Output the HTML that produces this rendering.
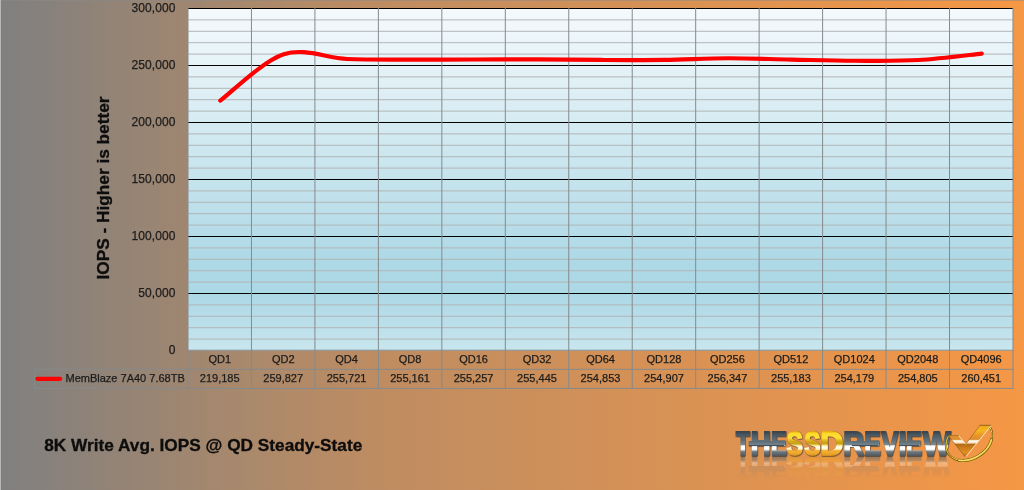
<!DOCTYPE html>
<html lang="en"><head><meta charset="utf-8"><title>8K Write Avg. IOPS @ QD Steady-State</title>
<style>
html,body{margin:0;padding:0;}
body{width:1024px;height:490px;overflow:hidden;background:#808080;}
svg{display:block;}
text{font-family:"Liberation Sans",sans-serif;}
.ax{font-size:12px;fill:#1c1c1c;letter-spacing:0.1px;stroke:#1c1c1c;stroke-width:0.25px;}
.tb{font-size:11px;fill:#1c1c1c;stroke:#1c1c1c;stroke-width:0.25px;}
.ttl{font-size:16px;font-weight:bold;fill:#0d0d0d;stroke:#0d0d0d;stroke-width:0.3px;}
.logo{font-family:"Liberation Sans",sans-serif;font-weight:bold;font-size:33.5px;}
</style></head><body>
<svg width="1024" height="490" viewBox="0 0 1024 490">
<defs>
<linearGradient id="bg" x1="0" y1="0" x2="1" y2="0">
<stop offset="0" stop-color="#808080"/>
<stop offset="0.125" stop-color="#958475"/>
<stop offset="0.25" stop-color="#AB896B"/>
<stop offset="0.375" stop-color="#BF8C61"/>
<stop offset="0.5" stop-color="#CA8F5C"/>
<stop offset="0.75" stop-color="#E09350"/>
<stop offset="1" stop-color="#F59745"/>
</linearGradient>
<linearGradient id="plot" x1="0" y1="0" x2="0" y2="1">
<stop offset="0" stop-color="#F5FAFC"/>
<stop offset="0.75" stop-color="#ADD8E6"/>
<stop offset="0.84" stop-color="#ADD8E6"/>
<stop offset="1" stop-color="#C8E6EE"/>
</linearGradient>
<linearGradient id="chrome" gradientUnits="userSpaceOnUse" x1="0" y1="432" x2="0" y2="456">
<stop offset="0" stop-color="#3a444c"/>
<stop offset="0.12" stop-color="#4a5862"/>
<stop offset="0.40" stop-color="#64747e"/>
<stop offset="0.54" stop-color="#7d8d96"/>
<stop offset="0.57" stop-color="#eef2f4"/>
<stop offset="0.61" stop-color="#ffffff"/>
<stop offset="0.72" stop-color="#ffffff"/>
<stop offset="0.78" stop-color="#aab2b7"/>
<stop offset="0.82" stop-color="#6f787e"/>
<stop offset="1" stop-color="#4e565c"/>
</linearGradient>
<linearGradient id="bar" gradientUnits="userSpaceOnUse" x1="0" y1="441" x2="0" y2="446">
<stop offset="0" stop-color="#5b6b75"/>
<stop offset="0.8" stop-color="#74848d"/>
<stop offset="0.86" stop-color="#465159"/>
<stop offset="1" stop-color="#465159"/>
</linearGradient>
<linearGradient id="gold" gradientUnits="userSpaceOnUse" x1="0" y1="431.5" x2="0" y2="456.5">
<stop offset="0" stop-color="#e8b010"/>
<stop offset="0.08" stop-color="#ffd92a"/>
<stop offset="0.26" stop-color="#ffdf35"/>
<stop offset="0.40" stop-color="#d4a818"/>
<stop offset="0.50" stop-color="#c9a01a"/>
<stop offset="0.55" stop-color="#f6e27a"/>
<stop offset="0.62" stop-color="#fffdf0"/>
<stop offset="0.71" stop-color="#fff2c0"/>
<stop offset="0.76" stop-color="#f4b336"/>
<stop offset="0.9" stop-color="#eba32a"/>
<stop offset="1" stop-color="#c88418"/>
</linearGradient>
<linearGradient id="chk" gradientUnits="userSpaceOnUse" x1="0" y1="425" x2="0" y2="457">
<stop offset="0" stop-color="#8a5a12"/>
<stop offset="0.03" stop-color="#f0a81c"/>
<stop offset="0.18" stop-color="#f6b422"/>
<stop offset="0.33" stop-color="#e8962a"/>
<stop offset="0.45" stop-color="#dc8c2e"/>
<stop offset="0.475" stop-color="#f8e2c4"/>
<stop offset="0.52" stop-color="#fffaf0"/>
<stop offset="0.57" stop-color="#f3d3a8"/>
<stop offset="0.595" stop-color="#b06a12"/>
<stop offset="0.70" stop-color="#c87c1a"/>
<stop offset="0.85" stop-color="#e08e22"/>
<stop offset="1" stop-color="#b87016"/>
</linearGradient>
<linearGradient id="fade" gradientUnits="userSpaceOnUse" x1="0" y1="456" x2="0" y2="478">
<stop offset="0" stop-color="#fff" stop-opacity="0.55"/>
<stop offset="0.5" stop-color="#fff" stop-opacity="0.18"/>
<stop offset="1" stop-color="#fff" stop-opacity="0"/>
</linearGradient>
<filter id="lsh" x="-2%" y="-10%" width="104%" height="120%" color-interpolation-filters="sRGB">
<feDropShadow dx="0.5" dy="0.5" stdDeviation="0.35" flood-color="#1b2126" flood-opacity="0.85"/>
</filter>
<mask id="refl" maskUnits="userSpaceOnUse" x="700" y="450" width="324" height="40">
<rect x="700" y="456" width="324" height="24" fill="url(#fade)"/>
</mask>
</defs>
<rect x="0" y="0" width="1024" height="490" fill="url(#bg)"/>
<rect x="0" y="0" width="1024" height="1" fill="#8a8a8a" fill-opacity="0.5"/>
<rect x="0" y="0" width="1" height="490" fill="#b7b7b7"/>
<rect x="188.0" y="8.0" width="824.98" height="342.5" fill="url(#plot)"/>
<g stroke="#b2b5b6" stroke-width="1" shape-rendering="auto">
<line x1="187.5" y1="19.90" x2="1013.48" y2="19.90"/>
<line x1="187.5" y1="31.30" x2="1013.48" y2="31.30"/>
<line x1="187.5" y1="42.70" x2="1013.48" y2="42.70"/>
<line x1="187.5" y1="54.10" x2="1013.48" y2="54.10"/>
<line x1="187.5" y1="76.90" x2="1013.48" y2="76.90"/>
<line x1="187.5" y1="88.30" x2="1013.48" y2="88.30"/>
<line x1="187.5" y1="99.70" x2="1013.48" y2="99.70"/>
<line x1="187.5" y1="111.10" x2="1013.48" y2="111.10"/>
<line x1="187.5" y1="133.90" x2="1013.48" y2="133.90"/>
<line x1="187.5" y1="145.30" x2="1013.48" y2="145.30"/>
<line x1="187.5" y1="156.70" x2="1013.48" y2="156.70"/>
<line x1="187.5" y1="168.10" x2="1013.48" y2="168.10"/>
<line x1="187.5" y1="190.90" x2="1013.48" y2="190.90"/>
<line x1="187.5" y1="202.30" x2="1013.48" y2="202.30"/>
<line x1="187.5" y1="213.70" x2="1013.48" y2="213.70"/>
<line x1="187.5" y1="225.10" x2="1013.48" y2="225.10"/>
<line x1="187.5" y1="247.90" x2="1013.48" y2="247.90"/>
<line x1="187.5" y1="259.30" x2="1013.48" y2="259.30"/>
<line x1="187.5" y1="270.70" x2="1013.48" y2="270.70"/>
<line x1="187.5" y1="282.10" x2="1013.48" y2="282.10"/>
<line x1="187.5" y1="304.90" x2="1013.48" y2="304.90"/>
<line x1="187.5" y1="316.30" x2="1013.48" y2="316.30"/>
<line x1="187.5" y1="327.70" x2="1013.48" y2="327.70"/>
<line x1="187.5" y1="339.10" x2="1013.48" y2="339.10"/>
</g>
<g stroke="#000" stroke-width="1" shape-rendering="crispEdges">
<line x1="187.5" y1="8.50" x2="1013.48" y2="8.50"/>
<line x1="187.5" y1="65.50" x2="1013.48" y2="65.50"/>
<line x1="187.5" y1="122.50" x2="1013.48" y2="122.50"/>
<line x1="187.5" y1="179.50" x2="1013.48" y2="179.50"/>
<line x1="187.5" y1="236.50" x2="1013.48" y2="236.50"/>
<line x1="187.5" y1="293.50" x2="1013.48" y2="293.50"/>
</g>
<g stroke="#858a8d" stroke-width="1">
<line x1="188.00" y1="8.0" x2="188.00" y2="388.9"/>
<line x1="251.46" y1="8.0" x2="251.46" y2="388.9"/>
<line x1="314.92" y1="8.0" x2="314.92" y2="388.9"/>
<line x1="378.38" y1="8.0" x2="378.38" y2="388.9"/>
<line x1="441.84" y1="8.0" x2="441.84" y2="388.9"/>
<line x1="505.30" y1="8.0" x2="505.30" y2="388.9"/>
<line x1="568.76" y1="8.0" x2="568.76" y2="388.9"/>
<line x1="632.22" y1="8.0" x2="632.22" y2="388.9"/>
<line x1="695.68" y1="8.0" x2="695.68" y2="388.9"/>
<line x1="759.14" y1="8.0" x2="759.14" y2="388.9"/>
<line x1="822.60" y1="8.0" x2="822.60" y2="388.9"/>
<line x1="886.06" y1="8.0" x2="886.06" y2="388.9"/>
<line x1="949.52" y1="8.0" x2="949.52" y2="388.9"/>
<line x1="1012.98" y1="8.0" x2="1012.98" y2="388.9"/>
<line x1="187.5" y1="350.2" x2="1013.48" y2="350.2"/>
<line x1="33.9" y1="369.3" x2="1013.48" y2="369.3"/>
<line x1="33.9" y1="388.4" x2="1013.48" y2="388.4"/>
<line x1="34.4" y1="368.8" x2="34.4" y2="388.9"/>
</g>
<g class="ax" text-anchor="end">
<text x="175.5" y="12.0">300,000</text>
<text x="175.5" y="69.0">250,000</text>
<text x="175.5" y="126.0">200,000</text>
<text x="175.5" y="183.0">150,000</text>
<text x="175.5" y="240.0">100,000</text>
<text x="175.5" y="297.0">50,000</text>
<text x="175.5" y="354.0">0</text>
</g>
<text class="ttl" transform="translate(109.2 279.5) rotate(-90) scale(1.078 1.04)" x="0" y="0">IOPS - Higher is better</text>
<g class="tb" text-anchor="middle">
<text x="219.7" y="362.8">QD1</text>
<text x="219.7" y="381.8">219,185</text>
<text x="283.2" y="362.8">QD2</text>
<text x="283.2" y="381.8">259,827</text>
<text x="346.6" y="362.8">QD4</text>
<text x="346.6" y="381.8">255,721</text>
<text x="410.1" y="362.8">QD8</text>
<text x="410.1" y="381.8">255,161</text>
<text x="473.6" y="362.8">QD16</text>
<text x="473.6" y="381.8">255,257</text>
<text x="537.0" y="362.8">QD32</text>
<text x="537.0" y="381.8">255,445</text>
<text x="600.5" y="362.8">QD64</text>
<text x="600.5" y="381.8">254,853</text>
<text x="664.0" y="362.8">QD128</text>
<text x="664.0" y="381.8">254,907</text>
<text x="727.4" y="362.8">QD256</text>
<text x="727.4" y="381.8">256,347</text>
<text x="790.9" y="362.8">QD512</text>
<text x="790.9" y="381.8">255,183</text>
<text x="854.3" y="362.8">QD1024</text>
<text x="854.3" y="381.8">254,179</text>
<text x="917.8" y="362.8">QD2048</text>
<text x="917.8" y="381.8">254,805</text>
<text x="981.2" y="362.8">QD4096</text>
<text x="981.2" y="381.8">260,451</text>
</g>
<text class="tb" x="65.5" y="381.8">MemBlaze 7A40 7.68TB</text>
<line x1="37.4" y1="378.8" x2="60.2" y2="378.8" stroke="#ff0000" stroke-width="4.2" stroke-linecap="round"/>
<path d="M220.23,100.63 C230.81,92.91 262.54,61.24 283.69,54.30 C304.84,47.36 326.00,58.09 347.15,58.98 C368.30,59.86 389.46,59.53 410.61,59.62 C431.76,59.70 452.92,59.56 474.07,59.51 C495.22,59.45 516.38,59.22 537.53,59.29 C558.68,59.37 579.84,59.87 600.99,59.97 C622.14,60.07 643.30,60.19 664.45,59.91 C685.60,59.62 706.76,58.32 727.91,58.26 C749.06,58.21 770.22,59.18 791.37,59.59 C812.52,60.00 833.68,60.66 854.83,60.74 C875.98,60.81 897.14,61.21 918.29,60.02 C939.44,58.83 971.17,54.66 981.75,53.59" fill="none" stroke="#ff0000" stroke-width="4.2" stroke-linecap="round" stroke-linejoin="round"/>
<text class="ttl" transform="translate(44.2 450.8) scale(1.079 1.04)" x="0" y="0">8K Write Avg. IOPS @ QD Steady-State</text>
<g mask="url(#refl)" aria-hidden="true"><g transform="translate(0 912.4) scale(1 -1)"><g><text class="logo" font-size="32.27" y="455.10" stroke-width="1.8" stroke-linejoin="miter"><tspan x="736.05" textLength="13.69" lengthAdjust="spacingAndGlyphs" fill="url(#chrome)" stroke="url(#chrome)">T</tspan><tspan x="750.66" textLength="19.90" lengthAdjust="spacingAndGlyphs" fill="url(#chrome)" stroke="url(#chrome)">H</tspan><tspan x="770.91" textLength="15.81" lengthAdjust="spacingAndGlyphs" fill="url(#chrome)" stroke="url(#chrome)">E</tspan><tspan x="786.48" textLength="16.59" lengthAdjust="spacingAndGlyphs" fill="url(#gold)" stroke="url(#gold)">S</tspan><tspan x="804.19" textLength="16.37" lengthAdjust="spacingAndGlyphs" fill="url(#gold)" stroke="url(#gold)">S</tspan><tspan x="820.25" textLength="23.20" lengthAdjust="spacingAndGlyphs" fill="url(#gold)" stroke="url(#gold)">D</tspan><tspan x="843.19" textLength="20.59" lengthAdjust="spacingAndGlyphs" fill="url(#chrome)" stroke="url(#chrome)">R</tspan><tspan x="864.27" textLength="16.29" lengthAdjust="spacingAndGlyphs" fill="url(#chrome)" stroke="url(#chrome)">E</tspan><tspan x="881.23" textLength="17.05" lengthAdjust="spacingAndGlyphs" fill="url(#chrome)" stroke="url(#chrome)">V</tspan><tspan x="898.69" textLength="7.52" lengthAdjust="spacingAndGlyphs" fill="url(#chrome)" stroke="url(#chrome)">I</tspan><tspan x="906.11" textLength="15.81" lengthAdjust="spacingAndGlyphs" fill="url(#chrome)" stroke="url(#chrome)">E</tspan><tspan x="922.77" textLength="27.66" lengthAdjust="spacingAndGlyphs" fill="url(#chrome)" stroke="url(#chrome)">W</tspan></text><g fill="url(#bar)"><rect x="748.8" y="441.1" width="35.4" height="5"/><rect x="852" y="441.1" width="26.4" height="5"/><rect x="899" y="441.1" width="20.4" height="5"/></g></g></g></g>
<g filter="url(#lsh)"><text class="logo" font-size="32.27" y="455.10" stroke-width="1.8" stroke-linejoin="miter"><tspan x="736.05" textLength="13.69" lengthAdjust="spacingAndGlyphs" fill="url(#chrome)" stroke="url(#chrome)">T</tspan><tspan x="750.66" textLength="19.90" lengthAdjust="spacingAndGlyphs" fill="url(#chrome)" stroke="url(#chrome)">H</tspan><tspan x="770.91" textLength="15.81" lengthAdjust="spacingAndGlyphs" fill="url(#chrome)" stroke="url(#chrome)">E</tspan><tspan x="786.48" textLength="16.59" lengthAdjust="spacingAndGlyphs" fill="url(#gold)" stroke="url(#gold)">S</tspan><tspan x="804.19" textLength="16.37" lengthAdjust="spacingAndGlyphs" fill="url(#gold)" stroke="url(#gold)">S</tspan><tspan x="820.25" textLength="23.20" lengthAdjust="spacingAndGlyphs" fill="url(#gold)" stroke="url(#gold)">D</tspan><tspan x="843.19" textLength="20.59" lengthAdjust="spacingAndGlyphs" fill="url(#chrome)" stroke="url(#chrome)">R</tspan><tspan x="864.27" textLength="16.29" lengthAdjust="spacingAndGlyphs" fill="url(#chrome)" stroke="url(#chrome)">E</tspan><tspan x="881.23" textLength="17.05" lengthAdjust="spacingAndGlyphs" fill="url(#chrome)" stroke="url(#chrome)">V</tspan><tspan x="898.69" textLength="7.52" lengthAdjust="spacingAndGlyphs" fill="url(#chrome)" stroke="url(#chrome)">I</tspan><tspan x="906.11" textLength="15.81" lengthAdjust="spacingAndGlyphs" fill="url(#chrome)" stroke="url(#chrome)">E</tspan><tspan x="922.77" textLength="27.66" lengthAdjust="spacingAndGlyphs" fill="url(#chrome)" stroke="url(#chrome)">W</tspan></text><g fill="url(#bar)"><rect x="748.8" y="441.1" width="35.4" height="5"/><rect x="852" y="441.1" width="26.4" height="5"/><rect x="899" y="441.1" width="20.4" height="5"/></g></g>
<path d="M948.14,436.61 A24.7,18.3 -31.4 1 0 989.17,426.12" fill="none" stroke="#5e4708" stroke-width="2.0" stroke-linecap="round"/>
<path d="M948.14,436.61 A24.7,18.3 -31.4 1 0 989.17,426.12" fill="none" stroke="#f2d848" stroke-width="1.0" stroke-linecap="round"/>
<path d="M958.98,460.20 A24.7,18.3 -31.4 0 0 991.48,439.78" fill="none" stroke="#5e4708" stroke-width="3.0" stroke-linecap="round"/>
<path d="M958.98,460.20 A24.7,18.3 -31.4 0 0 991.48,439.78" fill="none" stroke="#e8c838" stroke-width="2.0" stroke-linecap="round"/>
<path d="M958.98,460.20 A24.7,18.3 -31.4 0 0 991.48,439.78" fill="none" stroke="#fff3a0" stroke-width="0.6" stroke-linecap="round"/>
<polygon points="948.3,435.6 958.7,435.6 965.6,444.2 980.1,425.1 991.4,425.3 965.4,457.2" fill="url(#chk)"/>
<path d="M958.7,435.6 L965.6,444.2 M991.4,425.3 L965.4,457.2" fill="none" stroke="#fff4e0" stroke-width="0.8" stroke-linecap="round"/>
<path d="M965.4,457.2 L948.3,435.6 L958.7,435.6 M965.6,444.2 L980.1,425.1 L991.4,425.3" fill="none" stroke="#6e4a10" stroke-opacity="0.75" stroke-width="0.6" stroke-linecap="round" stroke-linejoin="round"/>
</svg>
</body></html>
